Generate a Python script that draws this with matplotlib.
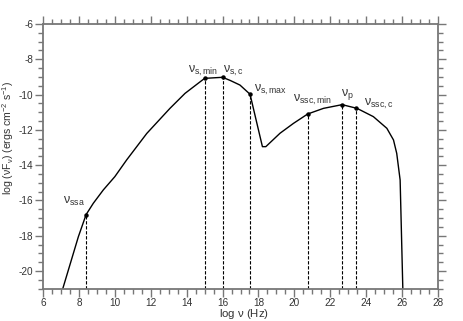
import matplotlib.pyplot as plt
from matplotlib.ticker import MultipleLocator

plt.rcParams['font.family'] = ['Liberation Sans', 'DejaVu Sans']
plt.rcParams['mathtext.fontset'] = 'custom'
plt.rcParams['mathtext.rm'] = 'Liberation Sans'
plt.rcParams['mathtext.it'] = 'Liberation Sans'
plt.rcParams['axes.unicode_minus'] = False

# SED curve (log nu, log nuF_nu)
log_nu = [7.1, 7.97, 8.4, 8.8, 9.36, 10.0, 10.66, 11.78, 13.07, 13.91, 15.0,
          16.0, 16.43, 16.97, 17.53, 18.22, 18.41, 19.2, 19.95, 20.74, 21.62,
          22.66, 23.49, 24.4, 25.15, 25.52, 25.7, 25.89, 26.04]
log_flux = [-21.0, -18.05, -16.8, -16.16, -15.4, -14.65, -13.7, -12.2, -10.78,
            -9.93, -9.08, -9.02, -9.2, -9.46, -9.98, -12.95, -12.95, -12.19,
            -11.63, -11.1, -10.78, -10.57, -10.78, -11.25, -11.91, -12.57,
            -13.33, -14.84, -21.0]

# marked break frequencies
mark_names = ['ssa', 's,min', 's,c', 's,max', 'ssc,min', 'p', 'ssc,c']
mark_x = [8.4, 15.0, 16.0, 17.52, 20.74, 22.66, 23.45]
mark_y = [-16.8, -9.08, -9.02, -9.96, -11.1, -10.57, -10.76]
label_x = [7.1, 14.1, 16.05, 17.75, 19.9, 22.6, 23.9]
label_y = [-16.2, -8.75, -8.75, -9.85, -10.4, -10.1, -10.65]

fig = plt.figure(figsize=(4.64, 3.21), dpi=100)
ax = fig.add_axes([0.0927, 0.1006, 0.8513, 0.8246])

ax.plot(log_nu, log_flux, color='black', lw=1.0)
for x, y in zip(mark_x, mark_y):
    ax.plot([x, x], [-21, y], color='black', lw=0.8, ls=(0, (3, 1.5)))
ax.plot(mark_x, mark_y, 'o', color='black', ms=2.2)

for name, x, y in zip(mark_names, label_x, label_y):
    ax.text(x, y, r'$\nu_{\mathrm{%s}}$' % name, fontsize=9, color='#333333',
            ha='left', va='baseline')

ax.set_xlim(6, 28)
ax.set_ylim(-21, -6)
ax.xaxis.set_major_locator(MultipleLocator(2))
ax.xaxis.set_minor_locator(MultipleLocator(0.5))
ax.yaxis.set_major_locator(MultipleLocator(2))
ax.yaxis.set_minor_locator(MultipleLocator(0.5))

gray = '#777777'
for s in ax.spines.values():
    s.set_color(gray)
    s.set_linewidth(1.3)
ax.tick_params(which='both', direction='out', color=gray, width=1.0,
               top=True, right=True, labelsize=7.2, labelcolor='#333333')
ax.tick_params(which='major', length=6, pad=1)
ax.tick_params(which='minor', length=3.5)

ax.set_xlabel(r'log $\nu$ (Hz)', fontsize=8.2, color='#333333', va='center')
ax.xaxis.set_label_coords(0.508, -0.097)
ax.set_ylabel(r'log ($\nu$F$_{\nu}$) (ergs cm$^{-2}$ s$^{-1}$)', fontsize=7.6,
              color='#333333', va='center')
ax.yaxis.set_label_coords(-0.088, 0.569)

fig.savefig('out.png', dpi=100, facecolor='white')
